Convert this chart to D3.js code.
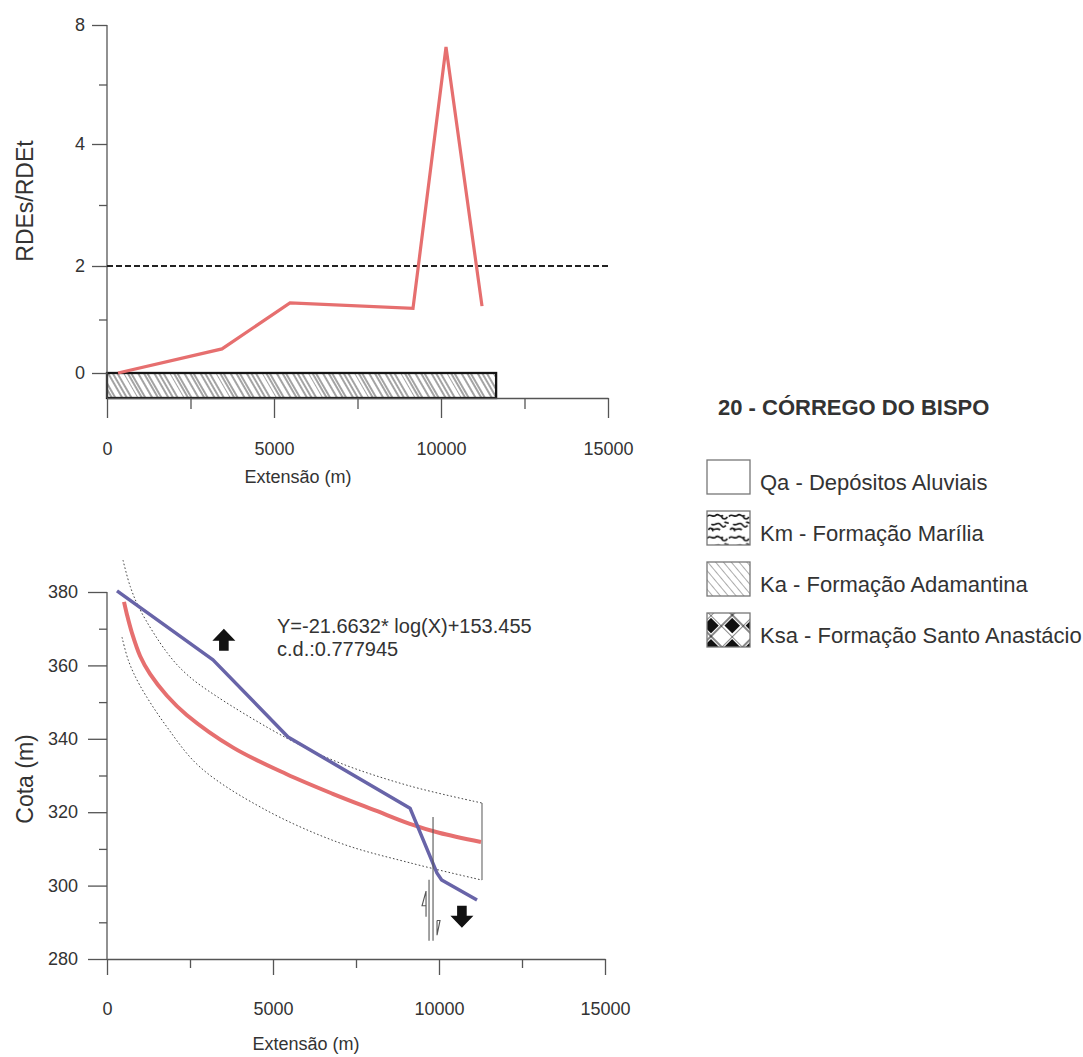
<!DOCTYPE html>
<html>
<head>
<meta charset="utf-8">
<script src="https://cdn.jsdelivr.net/npm/d3@7"></script>
<style>
  body { margin: 0; background: #fff; }
  text { font-family: "Liberation Sans", Arial, sans-serif; fill: #333; }
</style>
</head>
<body>
<svg id="chart" width="1083" height="1057"></svg>
<script>
// ---- top chart: RDEs/RDEt along the stream
const rdeX = [330, 3443, 5479, 9162, 10150, 11228];
const rdeY = [0, 0.45, 1.31, 1.21, 7.26, 1.25];
const rdeTicks = [0, 2, 4, 8];
const rdeMinor = [1, 3, 6];
const anomalyLevel = 2;
const lithoEnd = 11650;   // extent of the Ka band under the top chart

// ---- bottom chart: longitudinal profile
const profX = [301, 3193, 5452, 9127, 9940, 10080, 11145];
const profY = [380.3, 361.5, 340.5, 321.1, 303.4, 301.5, 296.1];
const fitX = [512, 600, 750, 1000, 1300, 1800, 2400, 3800, 5400, 6800, 8100, 9100, 10000, 11265];
const fitY = [377.3, 373.9, 368.9, 362.5, 357.6, 351.8, 346.5, 337.6, 330.4, 325.0, 320.4, 316.9, 314.4, 311.9];
const upperX = [482, 700, 994, 1807, 2410, 3313, 5512, 7018, 9100, 11295];
const upperY = [388.7, 381.5, 375.2, 363.5, 357.5, 351.5, 339.7, 333.4, 327.2, 322.5];
const lowerX = [452, 650, 994, 1807, 2801, 4700, 7018, 9127, 11295];
const lowerY = [367.7, 361.2, 354.5, 343.2, 332.3, 321, 311.6, 306.2, 301.5];
const cotaTicks = [280, 300, 320, 340, 360, 380];
const cotaMinor = [290, 310, 330, 350, 370];
const extTicks = [0, 5000, 10000, 15000];
const extMinor = [2500, 7500, 12500];
const faultX = 9760;            // fault trace
const upArrow = [3520, 367];    // uplifted block
const downArrow = [10690, 291.5];
const equation = ['Y=-21.6632* log(X)+153.455', 'c.d.:0.777945'];

// ---- legend
const legendTitle = '20 - CÓRREGO DO BISPO';
const legendLabels = ['Qa - Depósitos Aluviais', 'Km - Formação Marília',
                      'Ka - Formação Adamantina', 'Ksa - Formação Santo Anastácio'];
const legendFills = ['none', 'url(#km)', 'url(#kaLegend)', 'url(#ksa)'];

const RED = '#e66f6f', BLUE = '#6864a8', AXIS = '#555';

const svg = d3.select('#chart');
const defs = svg.append('defs');

// hatch used under the top chart (irregular spacing like the scan)
const band = defs.append('pattern').attr('id', 'kaBand')
  .attr('patternUnits', 'userSpaceOnUse').attr('width', 40).attr('height', 40)
  .attr('patternTransform', 'rotate(-30)');
[0, 4, 7, 13, 18, 21, 27, 31, 35].forEach(o => {
  band.append('line').attr('x1', o).attr('x2', o).attr('y1', 0).attr('y2', 40)
    .attr('stroke', '#333').attr('stroke-width', 0.9);
});

const kaL = defs.append('pattern').attr('id', 'kaLegend')
  .attr('patternUnits', 'userSpaceOnUse').attr('width', 6).attr('height', 20)
  .attr('patternTransform', 'rotate(-40)');
kaL.append('line').attr('x1', 0).attr('x2', 0).attr('y1', 0).attr('y2', 20)
  .attr('stroke', '#444').attr('stroke-width', 0.9);

const km = defs.append('pattern').attr('id', 'km')
  .attr('patternUnits', 'userSpaceOnUse').attr('width', 15).attr('height', 15)
  .attr('patternTransform', 'scale(1.45)');
['M0,4 c2,-3 4,1 6,-1 s3,2 5,0', 'M3,9 c2,2 4,-2 6,0 s2,3 4,1',
 'M9,13 c-2,-2 -4,1 -6,-1', 'M10,4 c1,2 3,2 4,0', 'M1,13 c1,-2 3,-1 3,1',
 'M12,8 c1,-1 2,1 3,0'].forEach(p => {
  km.append('path').attr('d', p).attr('fill', 'none')
    .attr('stroke', '#111').attr('stroke-width', 1.1);
});

const ksa = defs.append('pattern').attr('id', 'ksa')
  .attr('patternUnits', 'userSpaceOnUse').attr('width', 30).attr('height', 30)
  .attr('patternTransform', 'translate(4,2) rotate(45)');
ksa.append('rect').attr('width', 30).attr('height', 30).attr('fill', '#fff');
ksa.append('rect').attr('x', 2).attr('y', 2).attr('width', 11).attr('height', 11).attr('fill', '#111');
ksa.append('rect').attr('x', 17).attr('y', 17).attr('width', 11).attr('height', 11).attr('fill', '#111');
ksa.append('path').attr('d', 'M0,15 H30 M15,0 V30 M0,0 H30 M0,0 V30')
  .attr('stroke', '#111').attr('stroke-width', 1);

// ===================== TOP CHART =====================
const xTop = d3.scaleLinear().domain([0, 15000]).range([107, 608]);
const yTop = d3.scaleLinear().domain([0, 2, 4, 8]).range([373, 266, 144, 25]);
const topAxisY = 398;

function styleAxis(g) {
  g.selectAll('line').attr('stroke', AXIS).attr('stroke-width', 1.3);
  g.selectAll('path.domain').attr('stroke', AXIS).attr('stroke-width', 1.3);
  g.selectAll('text').attr('fill', '#333').style('font-size', '18px')
    .style('font-family', '"Liberation Sans", Arial, sans-serif');
}

// Ka band (lithology bar)
svg.append('rect')
  .attr('x', xTop(0)).attr('y', yTop(0))
  .attr('width', xTop(lithoEnd) - xTop(0)).attr('height', topAxisY - yTop(0))
  .attr('fill', 'url(#kaBand)').attr('stroke', '#151515').attr('stroke-width', 2.3);

// axes
svg.append('g').attr('transform', `translate(107,0)`)
  .call(d3.axisLeft(yTop).tickValues(rdeTicks).tickSize(15).tickPadding(7).tickFormat(d3.format('d')))
  .call(g => g.select('.domain').remove()).call(styleAxis);
svg.append('g').attr('transform', `translate(107,0)`)
  .call(d3.axisLeft(yTop).tickValues(rdeMinor).tickSize(8).tickFormat(''))
  .call(g => g.select('.domain').remove()).call(styleAxis);
svg.append('line').attr('x1', 107).attr('x2', 107).attr('y1', yTop(8)).attr('y2', topAxisY)
  .attr('stroke', AXIS).attr('stroke-width', 1.3);

svg.append('g').attr('transform', `translate(0,${topAxisY})`)
  .call(d3.axisBottom(xTop).tickValues(extTicks).tickSize(20).tickSizeOuter(0).tickPadding(24).tickFormat(d3.format('d')))
  .call(styleAxis);
svg.append('g').attr('transform', `translate(0,${topAxisY})`)
  .call(d3.axisBottom(xTop).tickValues(extMinor).tickSize(11).tickFormat(''))
  .call(g => g.select('.domain').remove()).call(styleAxis);

// anomaly threshold
svg.append('line')
  .attr('x1', xTop(0)).attr('x2', xTop(15000) + 2)
  .attr('y1', yTop(anomalyLevel)).attr('y2', yTop(anomalyLevel))
  .attr('stroke', '#222').attr('stroke-width', 2).attr('stroke-dasharray', '6,3');

// RDE series
svg.append('path')
  .datum(d3.zip(rdeX, rdeY))
  .attr('fill', 'none').attr('stroke', RED).attr('stroke-width', 3.2)
  .attr('stroke-linejoin', 'miter')
  .attr('d', d3.line().x(d => xTop(d[0])).y(d => yTop(d[1])));

svg.append('text').attr('transform', 'translate(33,201) rotate(-90)')
  .attr('text-anchor', 'middle').style('font-size', '23px').text('RDEs/RDEt');
svg.append('text').attr('x', 298).attr('y', 483)
  .attr('text-anchor', 'middle').style('font-size', '18px').text('Extensão (m)');

// ===================== BOTTOM CHART =====================
const xBot = d3.scaleLinear().domain([0, 15000]).range([107, 605]);
const yBot = d3.scaleLinear().domain([280, 380]).range([959, 592]);

svg.append('g').attr('transform', 'translate(107,0)')
  .call(d3.axisLeft(yBot).tickValues(cotaTicks).tickSize(19).tickPadding(10))
  .call(g => g.select('.domain').remove()).call(styleAxis);
svg.append('g').attr('transform', 'translate(107,0)')
  .call(d3.axisLeft(yBot).tickValues(cotaMinor).tickSize(8).tickFormat(''))
  .call(g => g.select('.domain').remove()).call(styleAxis);
svg.append('line').attr('x1', 107).attr('x2', 107).attr('y1', yBot(380)).attr('y2', yBot(280))
  .attr('stroke', AXIS).attr('stroke-width', 1.3);

svg.append('g').attr('transform', `translate(0,${yBot(280)})`)
  .call(d3.axisBottom(xBot).tickValues(extTicks).tickSize(16).tickSizeOuter(0).tickPadding(27).tickFormat(d3.format('d')))
  .call(styleAxis);
svg.append('g').attr('transform', `translate(0,${yBot(280)})`)
  .call(d3.axisBottom(xBot).tickValues(extMinor).tickSize(9).tickFormat(''))
  .call(g => g.select('.domain').remove()).call(styleAxis);

const lineBot = d3.line().x(d => xBot(d[0])).y(d => yBot(d[1]));
const smoothBot = d3.line().curve(d3.curveCatmullRom.alpha(0.5)).x(d => xBot(d[0])).y(d => yBot(d[1]));

// confidence band of the fit
[[upperX, upperY], [lowerX, lowerY]].forEach(([xs, ys]) => {
  svg.append('path').datum(d3.zip(xs, ys))
    .attr('fill', 'none').attr('stroke', '#444').attr('stroke-width', 1)
    .attr('stroke-dasharray', '1.6,2.2').attr('d', smoothBot);
});
svg.append('line')
  .attr('x1', xBot(upperX[upperX.length - 1])).attr('x2', xBot(lowerX[lowerX.length - 1]))
  .attr('y1', yBot(upperY[upperY.length - 1])).attr('y2', yBot(lowerY[lowerY.length - 1]))
  .attr('stroke', '#666').attr('stroke-width', 1.1);

// fitted log curve
svg.append('path').datum(d3.zip(fitX, fitY))
  .attr('fill', 'none').attr('stroke', RED).attr('stroke-width', 4)
  .attr('d', smoothBot);

// stream profile
svg.append('path').datum(d3.zip(profX, profY))
  .attr('fill', 'none').attr('stroke', BLUE).attr('stroke-width', 3.5)
  .attr('stroke-linejoin', 'round')
  .attr('d', lineBot);

// fault symbol
const fx = xBot(faultX);
const fault = svg.append('g').attr('stroke', '#555').attr('stroke-width', 1.1).attr('fill', 'none');
fault.append('line').attr('x1', fx + 2).attr('x2', fx + 2).attr('y1', yBot(318.7)).attr('y2', yBot(285));
fault.append('line').attr('x1', fx - 2).attr('x2', fx - 2).attr('y1', yBot(301.6)).attr('y2', yBot(285));
fault.append('path')
  .attr('d', `M${fx - 5},${yBot(298.5)} V${yBot(291.5)} M${fx - 5},${yBot(298.5)} L${fx - 9},${yBot(294.5)} H${fx - 5}`);
fault.append('path')
  .attr('d', `M${fx + 6},${yBot(290.5)} V${yBot(286.5)} L${fx + 9},${yBot(290.5)} H${fx + 6}`);

// block movement arrows
function blockArrow(cx, cy, dir) {
  // dir = -1 up, +1 down
  const hw = 11.5, sw = 4.8, head = 12, shaft = 10;
  const tip = cy + dir * (head + shaft) / 2;
  const base = tip - dir * head;
  const end = base - dir * shaft;
  svg.append('path')
    .attr('d', `M${cx},${tip} L${cx + hw},${base} H${cx + sw} V${end} H${cx - sw} V${base} H${cx - hw} Z`)
    .attr('fill', '#111');
}
blockArrow(xBot(upArrow[0]), yBot(upArrow[1]), -1);
blockArrow(xBot(downArrow[0]), yBot(downArrow[1]), 1);

// equation
svg.append('text').attr('x', 277).attr('y', 633).style('font-size', '20px').text(equation[0]);
svg.append('text').attr('x', 277).attr('y', 656).style('font-size', '20px').text(equation[1]);

svg.append('text').attr('transform', 'translate(33,779) rotate(-90)')
  .attr('text-anchor', 'middle').style('font-size', '23px').text('Cota (m)');
svg.append('text').attr('x', 306).attr('y', 1050)
  .attr('text-anchor', 'middle').style('font-size', '18px').text('Extensão (m)');

// ===================== LEGEND =====================
svg.append('text').attr('x', 718).attr('y', 415)
  .style('font-size', '22px').style('font-weight', 'bold').attr('fill', '#222').text(legendTitle);

const rows = svg.append('g').selectAll('g').data(legendLabels).join('g')
  .attr('transform', (d, i) => `translate(707,${460 + i * 51})`);
rows.append('rect').attr('width', 43).attr('height', 34)
  .attr('fill', (d, i) => legendFills[i] === 'none' ? '#fff' : legendFills[i])
  .attr('stroke', '#777').attr('stroke-width', 1.3);
rows.append('text').attr('x', 53).attr('y', 30).style('font-size', '22px').text(d => d);
</script>
</body>
</html>
